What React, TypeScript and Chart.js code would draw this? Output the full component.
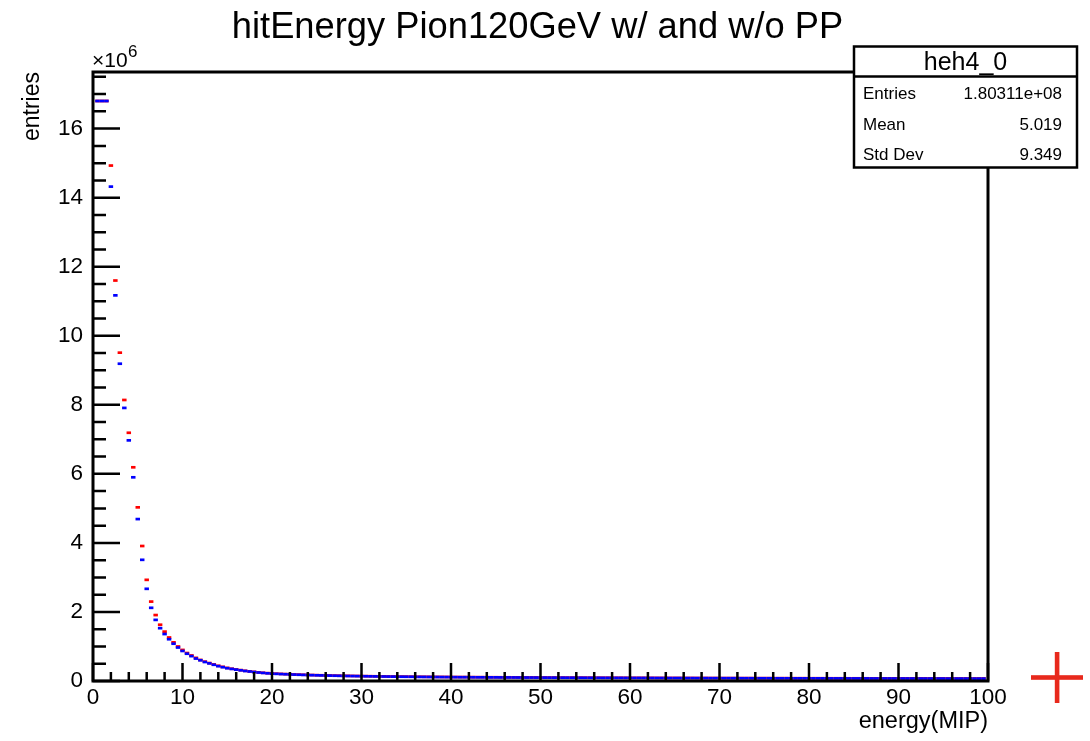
import React, { useEffect, useRef } from "react";
import { Chart, registerables } from "chart.js";

Chart.register(...registerables);

// Bin centres of the histogram (bin width 0.5), first visible bin at 0.5
const binWidth = 0.5;
const binCenters: number[] = Array.from({ length: 199 }, (_, i) => 0.5 + i * binWidth);

// "w/ PP" series (red), in units of 1e6 entries
const redValues: number[] = [
  16.8, 16.8, 16.8,
  14.93, 11.6, 9.51, 8.14, 7.19, 6.19, 5.03, 3.91, 2.93, 2.3, 1.91, 1.63, 1.43, 1.26, 1.12, 1.0,
  0.9, 0.81, 0.74, 0.67, 0.61, 0.56, 0.52, 0.48, 0.44, 0.41,
  0.38, 0.355, 0.335, 0.315, 0.295, 0.28, 0.265, 0.25, 0.238, 0.227,
  0.218, 0.212, 0.206, 0.2, 0.195, 0.19, 0.185, 0.181, 0.177, 0.173,
  0.169, 0.166, 0.163, 0.16, 0.157, 0.154, 0.151, 0.149, 0.147, 0.145,
  0.143, 0.141, 0.139, 0.137, 0.135, 0.134, 0.132, 0.131, 0.129, 0.128,
  0.127, 0.126, 0.124, 0.123, 0.122, 0.121, 0.12, 0.119, 0.118, 0.117,
  0.116, 0.115, 0.114, 0.114, 0.113, 0.112, 0.111, 0.111, 0.11, 0.109,
  0.109, 0.108, 0.107, 0.107, 0.106, 0.105, 0.105, 0.104, 0.104, 0.103,
  0.102, 0.102, 0.101, 0.101, 0.1, 0.1, 0.099, 0.099, 0.098, 0.098,
  0.097, 0.097, 0.096, 0.096, 0.095, 0.095, 0.095, 0.094, 0.094, 0.093,
  0.093, 0.092, 0.092, 0.092, 0.091, 0.091, 0.09, 0.09, 0.09, 0.089,
  0.089, 0.089, 0.088, 0.088, 0.088, 0.087, 0.087, 0.087, 0.086, 0.086,
  0.086, 0.085, 0.085, 0.085, 0.085, 0.084, 0.084, 0.084, 0.083, 0.083,
  0.083, 0.083, 0.082, 0.082, 0.082, 0.082, 0.081, 0.081, 0.081, 0.081,
  0.08, 0.08, 0.08, 0.08, 0.079, 0.079, 0.079, 0.079, 0.079, 0.078,
  0.078, 0.078, 0.078, 0.078, 0.077, 0.077, 0.077, 0.077, 0.077, 0.076,
  0.076, 0.076, 0.076, 0.076, 0.076, 0.075, 0.075, 0.075, 0.075, 0.075,
  0.075, 0.074, 0.074, 0.074, 0.074, 0.074, 0.074, 0.073, 0.073, 0.073,
];

// "w/o PP" series (blue), in units of 1e6 entries
const blueValues: number[] = [
  16.8, 16.8, 16.8,
  14.32, 11.17, 9.19, 7.91, 6.97, 5.9, 4.69, 3.51, 2.67, 2.12, 1.77, 1.53, 1.36, 1.21, 1.08, 0.97,
  0.87, 0.79, 0.72, 0.65, 0.6, 0.55, 0.51, 0.47, 0.43, 0.4,
  0.37, 0.35, 0.33, 0.31, 0.29, 0.275, 0.26, 0.246, 0.234, 0.223,
  0.213, 0.207, 0.201, 0.196, 0.191, 0.186, 0.181, 0.177, 0.173, 0.169,
  0.165, 0.162, 0.159, 0.156, 0.153, 0.15, 0.148, 0.145, 0.143, 0.141,
  0.139, 0.137, 0.135, 0.133, 0.131, 0.13, 0.128, 0.127, 0.125, 0.124,
  0.123, 0.122, 0.12, 0.119, 0.118, 0.117, 0.116, 0.115, 0.114, 0.113,
  0.112, 0.111, 0.11, 0.11, 0.109, 0.108, 0.107, 0.107, 0.106, 0.105,
  0.105, 0.104, 0.103, 0.103, 0.102, 0.101, 0.101, 0.1, 0.1, 0.099,
  0.098, 0.098, 0.097, 0.097, 0.096, 0.096, 0.095, 0.095, 0.094, 0.094,
  0.093, 0.093, 0.092, 0.092, 0.091, 0.091, 0.091, 0.09, 0.09, 0.089,
  0.089, 0.088, 0.088, 0.088, 0.087, 0.087, 0.086, 0.086, 0.086, 0.085,
  0.085, 0.085, 0.084, 0.084, 0.084, 0.083, 0.083, 0.083, 0.082, 0.082,
  0.082, 0.081, 0.081, 0.081, 0.081, 0.08, 0.08, 0.08, 0.079, 0.079,
  0.079, 0.079, 0.078, 0.078, 0.078, 0.078, 0.077, 0.077, 0.077, 0.077,
  0.076, 0.076, 0.076, 0.076, 0.075, 0.075, 0.075, 0.075, 0.075, 0.074,
  0.074, 0.074, 0.074, 0.074, 0.073, 0.073, 0.073, 0.073, 0.073, 0.072,
  0.072, 0.072, 0.072, 0.072, 0.072, 0.071, 0.071, 0.071, 0.071, 0.071,
  0.071, 0.07, 0.07, 0.07, 0.07, 0.07, 0.07, 0.069, 0.069, 0.069,
];

const xTickLabels: number[] = [0, 10, 20, 30, 40, 50, 60, 70, 80, 90, 100];
const yTickLabels: number[] = [0, 2, 4, 6, 8, 10, 12, 14, 16];

const titleText = "hitEnergy Pion120GeV w/ and w/o PP";
const xTitle = "energy(MIP)";
const yTitle = "entries";
const statsName = "heh4_0";
const statsLabels: string[] = ["Entries", "Mean", "Std Dev"];
const statsValues: string[] = ["1.80311e+08", "5.019", "9.349"];

const FONT = "'Liberation Sans', Arial, Helvetica, sans-serif";

const rootPlugin = {
  id: "rootDecor",
  afterDraw(chart: any) {
    const { ctx, chartArea: a, scales } = chart;
    const xs = scales.x;
    const ys = scales.y;
    ctx.save();
    ctx.strokeStyle = "#000";
    ctx.fillStyle = "#000";

    // x ticks (inside frame)
    ctx.lineWidth = 2.5;
    ctx.beginPath();
    for (let v = 0; v <= 100; v += 2) {
      const px = xs.getPixelForValue(v);
      const len = v % 10 === 0 ? 18 : 9;
      ctx.moveTo(px, a.bottom);
      ctx.lineTo(px, a.bottom - len);
    }
    // y ticks
    for (let k = 0; k * 0.5 <= ys.max; k++) {
      const v = k * 0.5;
      const py = ys.getPixelForValue(v);
      const len = k % 4 === 0 ? 27 : 13;
      ctx.moveTo(a.left, py);
      ctx.lineTo(a.left + len, py);
    }
    ctx.stroke();

    // frame
    ctx.lineWidth = 3;
    ctx.strokeRect(a.left, a.top, a.right - a.left, a.bottom - a.top);

    // title
    ctx.font = `36.3px ${FONT}`;
    ctx.textAlign = "center";
    ctx.textBaseline = "alphabetic";
    ctx.fillText(titleText, 537.5, 38);

    // x axis title
    ctx.font = `23.5px ${FONT}`;
    ctx.textAlign = "right";
    ctx.fillText(xTitle, a.right, 728);

    // y axis title
    ctx.save();
    ctx.font = `23px ${FONT}`;
    ctx.translate(39, a.top);
    ctx.rotate(-Math.PI / 2);
    ctx.textAlign = "right";
    ctx.fillText(yTitle, 0, 0);
    ctx.restore();

    // exponent label
    ctx.textAlign = "left";
    ctx.font = `21px ${FONT}`;
    const base = "\u00d710";
    ctx.fillText(base, 92, 67);
    const bw = ctx.measureText(base).width;
    ctx.font = `17px ${FONT}`;
    ctx.fillText("6", 92 + bw + 0.5, 57);

    // stats box
    const bx = 854, by = 46.5, bw2 = 223, bh = 121;
    ctx.fillStyle = "#fff";
    ctx.fillRect(bx, by, bw2, bh);
    ctx.lineWidth = 2.5;
    ctx.strokeRect(bx, by, bw2, bh);
    ctx.beginPath();
    ctx.moveTo(bx, 76.5);
    ctx.lineTo(bx + bw2, 76.5);
    ctx.stroke();
    ctx.fillStyle = "#000";
    ctx.font = `25px ${FONT}`;
    ctx.textAlign = "center";
    ctx.fillText(statsName, bx + bw2 / 2, 70);
    ctx.font = `17px ${FONT}`;
    const rowY = [99, 130, 160];
    statsLabels.forEach((l, i) => {
      ctx.textAlign = "left";
      ctx.fillText(l, 863, rowY[i]);
      ctx.textAlign = "right";
      ctx.fillText(statsValues[i], 1062, rowY[i]);
    });

    // red cross marker to the right of the frame
    ctx.fillStyle = "#e8291c";
    ctx.fillRect(1031, 675.2, 52, 4.6);
    ctx.fillRect(1054.8, 652, 4.6, 51);

    ctx.restore();
  },
};

export default function App() {
  const canvasRef = useRef<HTMLCanvasElement | null>(null);

  useEffect(() => {
    const canvas = canvasRef.current;
    if (!canvas) return;
    const tickFont = { family: FONT, size: 22.5 };
    const chart = new Chart(canvas, {
      type: "scatter",
      data: {
        datasets: [
          {
            label: "w/o PP",
            data: binCenters.map((x, i) => ({ x, y: blueValues[i] })),
            pointStyle: "line",
            pointRadius: 2.24,
            pointBorderWidth: 2.7,
            borderColor: "#0000ff",
            backgroundColor: "#0000ff",
            showLine: false,
          },
          {
            label: "w/ PP",
            data: binCenters.map((x, i) => ({ x, y: redValues[i] })),
            pointStyle: "line",
            pointRadius: 2.24,
            pointBorderWidth: 2.7,
            borderColor: "#ff0000",
            backgroundColor: "#ff0000",
            showLine: false,
          },
        ],
      },
      options: {
        responsive: false,
        animation: false,
        events: [],
        layout: { padding: { left: 0, top: 72, right: 102, bottom: 0 } },
        plugins: {
          legend: { display: false },
          title: { display: false },
          tooltip: { enabled: false },
        },
        scales: {
          x: {
            type: "linear",
            min: 0,
            max: 100,
            afterBuildTicks: (s: any) => {
              s.ticks = xTickLabels.map((v) => ({ value: v }));
            },
            afterFit: (s: any) => {
              s.height = 60;
            },
            grid: { display: false, drawTicks: false },
            border: { display: false },
            ticks: {
              padding: 3,
              color: "#000",
              font: tickFont,
              maxRotation: 0,
              autoSkip: false,
            },
          },
          y: {
            type: "linear",
            min: 0,
            max: 17.64,
            afterBuildTicks: (s: any) => {
              s.ticks = yTickLabels.map((v) => ({ value: v }));
            },
            afterFit: (s: any) => {
              s.width = 93;
            },
            grid: { display: false, drawTicks: false },
            border: { display: false },
            ticks: {
              padding: 10,
              color: "#000",
              font: tickFont,
              autoSkip: false,
            },
          },
        },
      },
      plugins: [rootPlugin],
    });
    return () => chart.destroy();
  }, []);

  return (
    <div style={{ position: "absolute", left: 0, top: 0, width: 1090, height: 741, background: "#fff" }}>
      <canvas ref={canvasRef} width={1090} height={741} style={{ display: "block" }} />
    </div>
  );
}
